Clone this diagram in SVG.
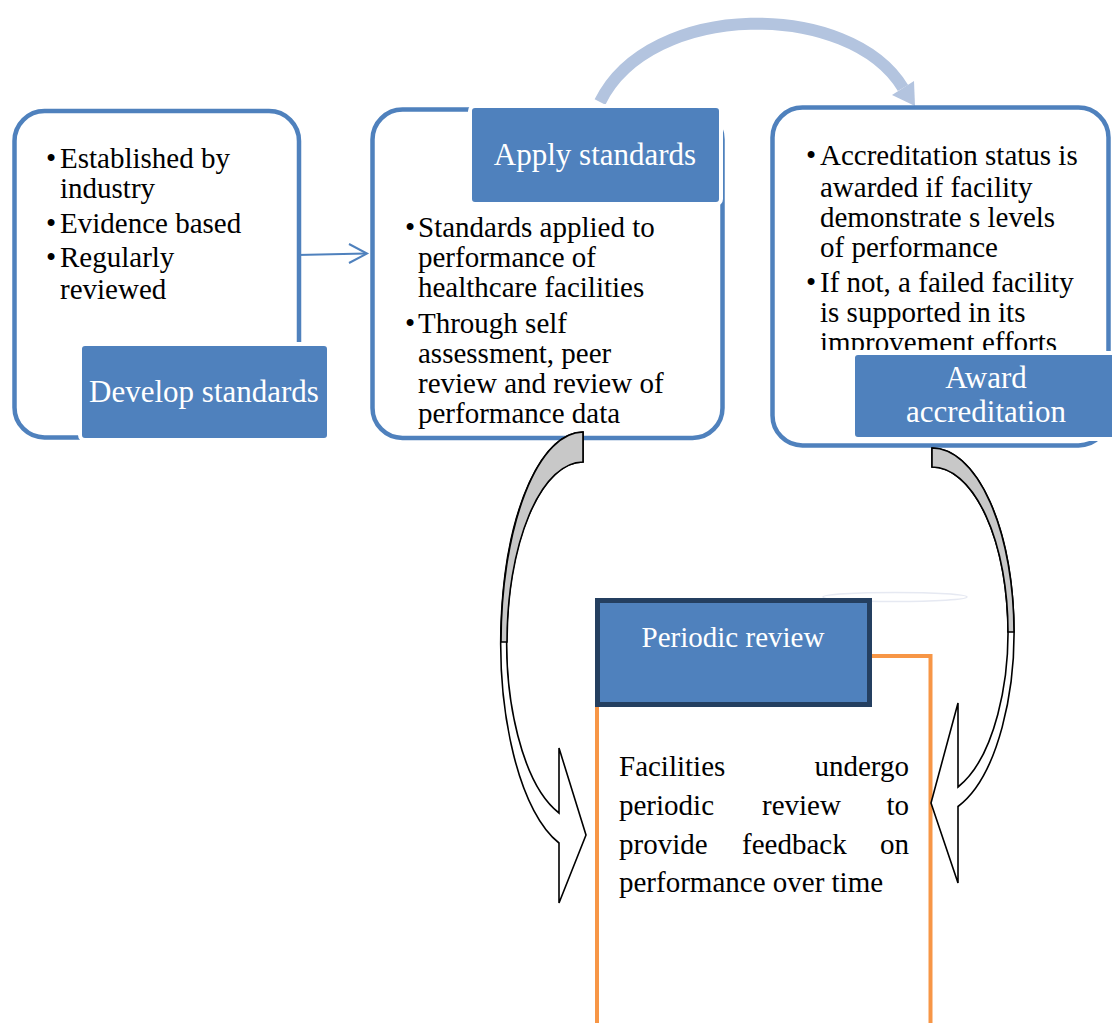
<svg xmlns="http://www.w3.org/2000/svg" width="1112" height="1023" viewBox="0 0 1112 1023">
<style>
.outer{fill:#fff;stroke:#4F81BD;stroke-width:4.5}
.lab{fill:#4F81BD;stroke:#fff;stroke-width:4}
.t{font-family:"Liberation Serif","Times New Roman",serif;font-size:29px;fill:#000}
.lt{font-family:"Liberation Serif","Times New Roman",serif;font-size:31px;fill:#fff;text-anchor:middle}
.barrow{fill:#fff;stroke:#000;stroke-width:1.6;stroke-linejoin:miter}
.shade{fill:#C8C8C8;stroke:#000;stroke-width:1.6}
</style>
<defs>
<clipPath id="clip3"><rect x="760" y="100" width="352" height="250"/></clipPath>
</defs>
<rect width="1112" height="1023" fill="#fff"/>

<g id="connectors">
<path d="M600,102 C650,0 850,0 903,88" fill="none" stroke="#B3C4DF" stroke-width="12"/>
<polygon points="915,106 892,95 914,81" fill="#B3C4DF"/>
<line x1="297" y1="255" x2="366" y2="253.5" stroke="#4F81BD" stroke-width="2"/>
<polyline points="349,244 367,253.5 349,263" fill="none" stroke="#4F81BD" stroke-width="2"/>
</g>

<g id="develop">
<rect class="outer" x="14.5" y="111" width="284.5" height="326.5" rx="30"/>
<rect class="lab" x="80" y="344" width="249" height="96" rx="5"/>
<text class="lt" x="204" y="402">Develop standards</text>
<text class="t" x="46" y="168">•</text><text class="t" x="60" y="168">Established by</text>
<text class="t" x="60" y="198">industry</text>
<text class="t" x="46" y="233">•</text><text class="t" x="60" y="233">Evidence based</text>
<text class="t" x="46" y="267">•</text><text class="t" x="60" y="267">Regularly</text>
<text class="t" x="60" y="299">reviewed</text>
</g>

<g id="apply">
<rect class="outer" x="372.5" y="109.5" width="350" height="328.5" rx="30"/>
<rect class="lab" x="470" y="106" width="251" height="98" rx="5"/>
<text class="lt" x="595" y="165">Apply standards</text>
<text class="t" x="405" y="237">•</text><text class="t" x="418" y="237">Standards applied to</text>
<text class="t" x="418" y="267">performance of</text>
<text class="t" x="418" y="297">healthcare facilities</text>
<text class="t" x="405" y="333">•</text><text class="t" x="418" y="333">Through self</text>
<text class="t" x="418" y="363">assessment, peer</text>
<text class="t" x="418" y="393">review and review of</text>
<text class="t" x="418" y="423">performance data</text>
</g>

<g id="award">
<rect class="outer" x="772.5" y="107.5" width="336" height="338" rx="30"/>
<g clip-path="url(#clip3)">
<text class="t" x="806" y="165">•</text><text class="t" x="820" y="165">Accreditation status is</text>
<text class="t" x="820" y="197">awarded if facility</text>
<text class="t" x="820" y="227">demonstrate s levels</text>
<text class="t" x="820" y="257">of performance</text>
<text class="t" x="806" y="292">•</text><text class="t" x="820" y="292">If not, a failed facility</text>
<text class="t" x="820" y="322">is supported in its</text>
<text class="t" x="820" y="352">improvement efforts</text>
</g>
<rect class="lab" x="853" y="353" width="270" height="86" rx="5"/>
<text class="lt" x="986" y="388">Award</text>
<text class="lt" x="986" y="422">accreditation</text>
</g>

<g id="periodic">
<ellipse cx="895" cy="597" rx="72" ry="4.5" fill="none" stroke="#E6E9F2" stroke-width="1.5"/>
<rect x="597" y="656" width="333.5" height="420" fill="#fff" stroke="#F79646" stroke-width="4"/>
<rect x="597.5" y="600.5" width="272" height="104" fill="#4F81BD" stroke="#243F60" stroke-width="5"/>
<text class="t" x="733" y="647" text-anchor="middle" fill="#fff" style="fill:#fff">Periodic review</text>
<text class="t" x="619" y="776">Facilities</text>
<text class="t" x="909" y="776" text-anchor="end">undergo</text>
<text class="t" x="619" y="815">periodic</text>
<text class="t" x="762" y="815">review</text>
<text class="t" x="909" y="815" text-anchor="end">to</text>
<text class="t" x="619" y="854">provide</text>
<text class="t" x="742" y="854">feedback</text>
<text class="t" x="909" y="854" text-anchor="end">on</text>
<text class="t" x="619" y="892">performance over time</text>
</g>

<g id="loop-arrows">
<path class="barrow" d="M583,432 A82,210 0 0 0 559,843 L559,903 L586,835 L559,748 L559,813 A76,180 0 0 1 583,462 Z"/>
<path class="shade" d="M583,432 A82,210 0 0 0 501,642 L507,642 A76,180 0 0 1 583,462 Z"/>
<path class="barrow" d="M932,448 A82,184 0 0 1 958,806.5 L958,883 L931,803 L958,703 L958,787 A76,165 0 0 0 932,467 Z"/>
<path class="shade" d="M932,448 A82,184 0 0 1 1014,632 L1008,632 A76,165 0 0 0 932,467 Z"/>
</g>
</svg>
